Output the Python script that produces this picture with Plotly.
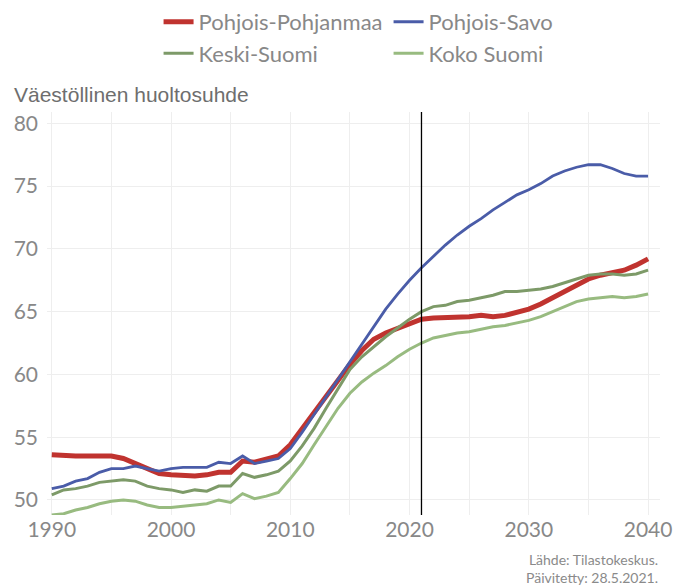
import plotly.graph_objects as go

years = list(range(1990, 2041))

pohjois_pohjanmaa = [53.6, 53.5, 53.5, 53.5, 53.5, 53.5, 53.3, 52.9, 52.5, 52.1,
                     52.0, 51.9, 51.9, 52.0, 52.2, 52.2, 53.1, 53.0, 53.2, 53.5,
                     54.4, 55.7, 56.9, 58.2, 59.6, 60.8, 61.9, 62.8, 63.3, 63.7,
                     64.1, 64.4, 64.5, 64.5, 64.6, 64.6, 64.7, 64.6, 64.7, 64.9,
                     65.2, 65.6, 66.1, 66.6, 67.1, 67.6, 67.9, 68.1, 68.3, 68.7,
                     69.2]
pohjois_savo = [50.9, 51.1, 51.5, 51.7, 52.2, 52.5, 52.5, 52.7, 52.5, 52.3,
                52.5, 52.6, 52.6, 52.6, 53.0, 52.9, 53.5, 52.9, 53.1, 53.3,
                54.1, 55.4, 56.8, 58.2, 59.7, 61.1, 62.5, 63.9, 65.2, 66.4,
                67.5, 68.5, 69.4, 70.3, 71.1, 71.8, 72.4, 73.1, 73.7, 74.3,
                74.7, 75.2, 75.8, 76.2, 76.5, 76.7, 76.7, 76.4, 76.0, 75.8,
                75.8]
keski_suomi = [50.4, 50.8, 50.9, 51.1, 51.4, 51.5, 51.6, 51.5, 51.1, 50.9,
               50.8, 50.6, 50.8, 50.7, 51.1, 51.1, 52.1, 51.8, 52.0, 52.3,
               53.1, 54.3, 55.7, 57.3, 58.9, 60.4, 61.4, 62.2, 63.0, 63.7,
               64.4, 65.0, 65.4, 65.5, 65.8, 65.9, 66.1, 66.3, 66.6, 66.6,
               66.7, 66.8, 67.0, 67.3, 67.6, 67.9, 68.0, 68.0, 67.9, 68.0,
               68.3]
koko_suomi = [48.8, 48.9, 49.2, 49.4, 49.7, 49.9, 50.0, 49.9, 49.6, 49.4,
              49.4, 49.5, 49.6, 49.7, 50.0, 49.8, 50.5, 50.1, 50.3, 50.6,
              51.7, 52.9, 54.4, 55.9, 57.3, 58.5, 59.4, 60.1, 60.7, 61.4,
              62.0, 62.5, 62.9, 63.1, 63.3, 63.4, 63.6, 63.8, 63.9, 64.1,
              64.3, 64.6, 65.0, 65.4, 65.8, 66.0, 66.1, 66.2, 66.1, 66.2,
              66.4]

current_year = 2021

series = [
    ('Pohjois-Pohjanmaa', pohjois_pohjanmaa, '#c0332f', 5),
    ('Pohjois-Savo', pohjois_savo, '#4a5ca8', 2.8),
    ('Keski-Suomi', keski_suomi, '#7d9a68', 3),
    ('Koko Suomi', koko_suomi, '#98bb80', 3),
]

fig = go.Figure()

for name, values, color, width in series:
    fig.add_trace(go.Scatter(x=years, y=values, name=name, mode='lines',
                             line=dict(color=color, width=width)))

# nykyhetki
fig.add_vline(x=current_year, line=dict(color='black', width=1.3))

fig.add_annotation(text='Väestöllinen huoltosuhde', xref='paper', yref='paper',
                   x=-0.057, y=1.0, yanchor='bottom', xanchor='left', yshift=4,
                   showarrow=False,
                   font=dict(family='Liberation Sans', size=21, color='#6e6e6e'))
fig.add_annotation(text='Lähde: Tilastokeskus.<br>Päivitetty: 28.5.2021.',
                   xref='paper', yref='paper', x=1.0, y=-0.085,
                   xanchor='right', yanchor='top', align='right', showarrow=False,
                   font=dict(family='Lato', size=14, color='#8a8a8a'))

# sivun oletusmarginaali (8 px) huomioitu
fig.update_layout(
    width=688, height=586,
    margin=dict(l=39, r=36, t=104, b=79, autoexpand=False),
    plot_bgcolor='white', paper_bgcolor='white',
    font=dict(family='Lato', color='#888888'),
    showlegend=True,
    legend=dict(orientation='h', x=0.182, xanchor='left', y=1.2755, yanchor='top',
                entrywidth=185, entrywidthmode='pixels', itemwidth=30,
                font=dict(family='Lato', size=22, color='#888888')),
    xaxis=dict(range=[1989.6, 2041], dtick=10, tick0=1990, showgrid=True,
               gridcolor='#eeeeee', zeroline=False, showline=False,
               minor=dict(dtick=5, showgrid=True, gridcolor='#eeeeee'),
               tickfont=dict(family='Lato', size=21, color='#888888')),
    yaxis=dict(range=[48.8, 80.9], dtick=5, showgrid=True, gridcolor='#eeeeee',
               zeroline=False, showline=False, ticklabelstandoff=8,
               tickfont=dict(family='Lato', size=21, color='#888888')),
)

fig.write_html("out.html")
